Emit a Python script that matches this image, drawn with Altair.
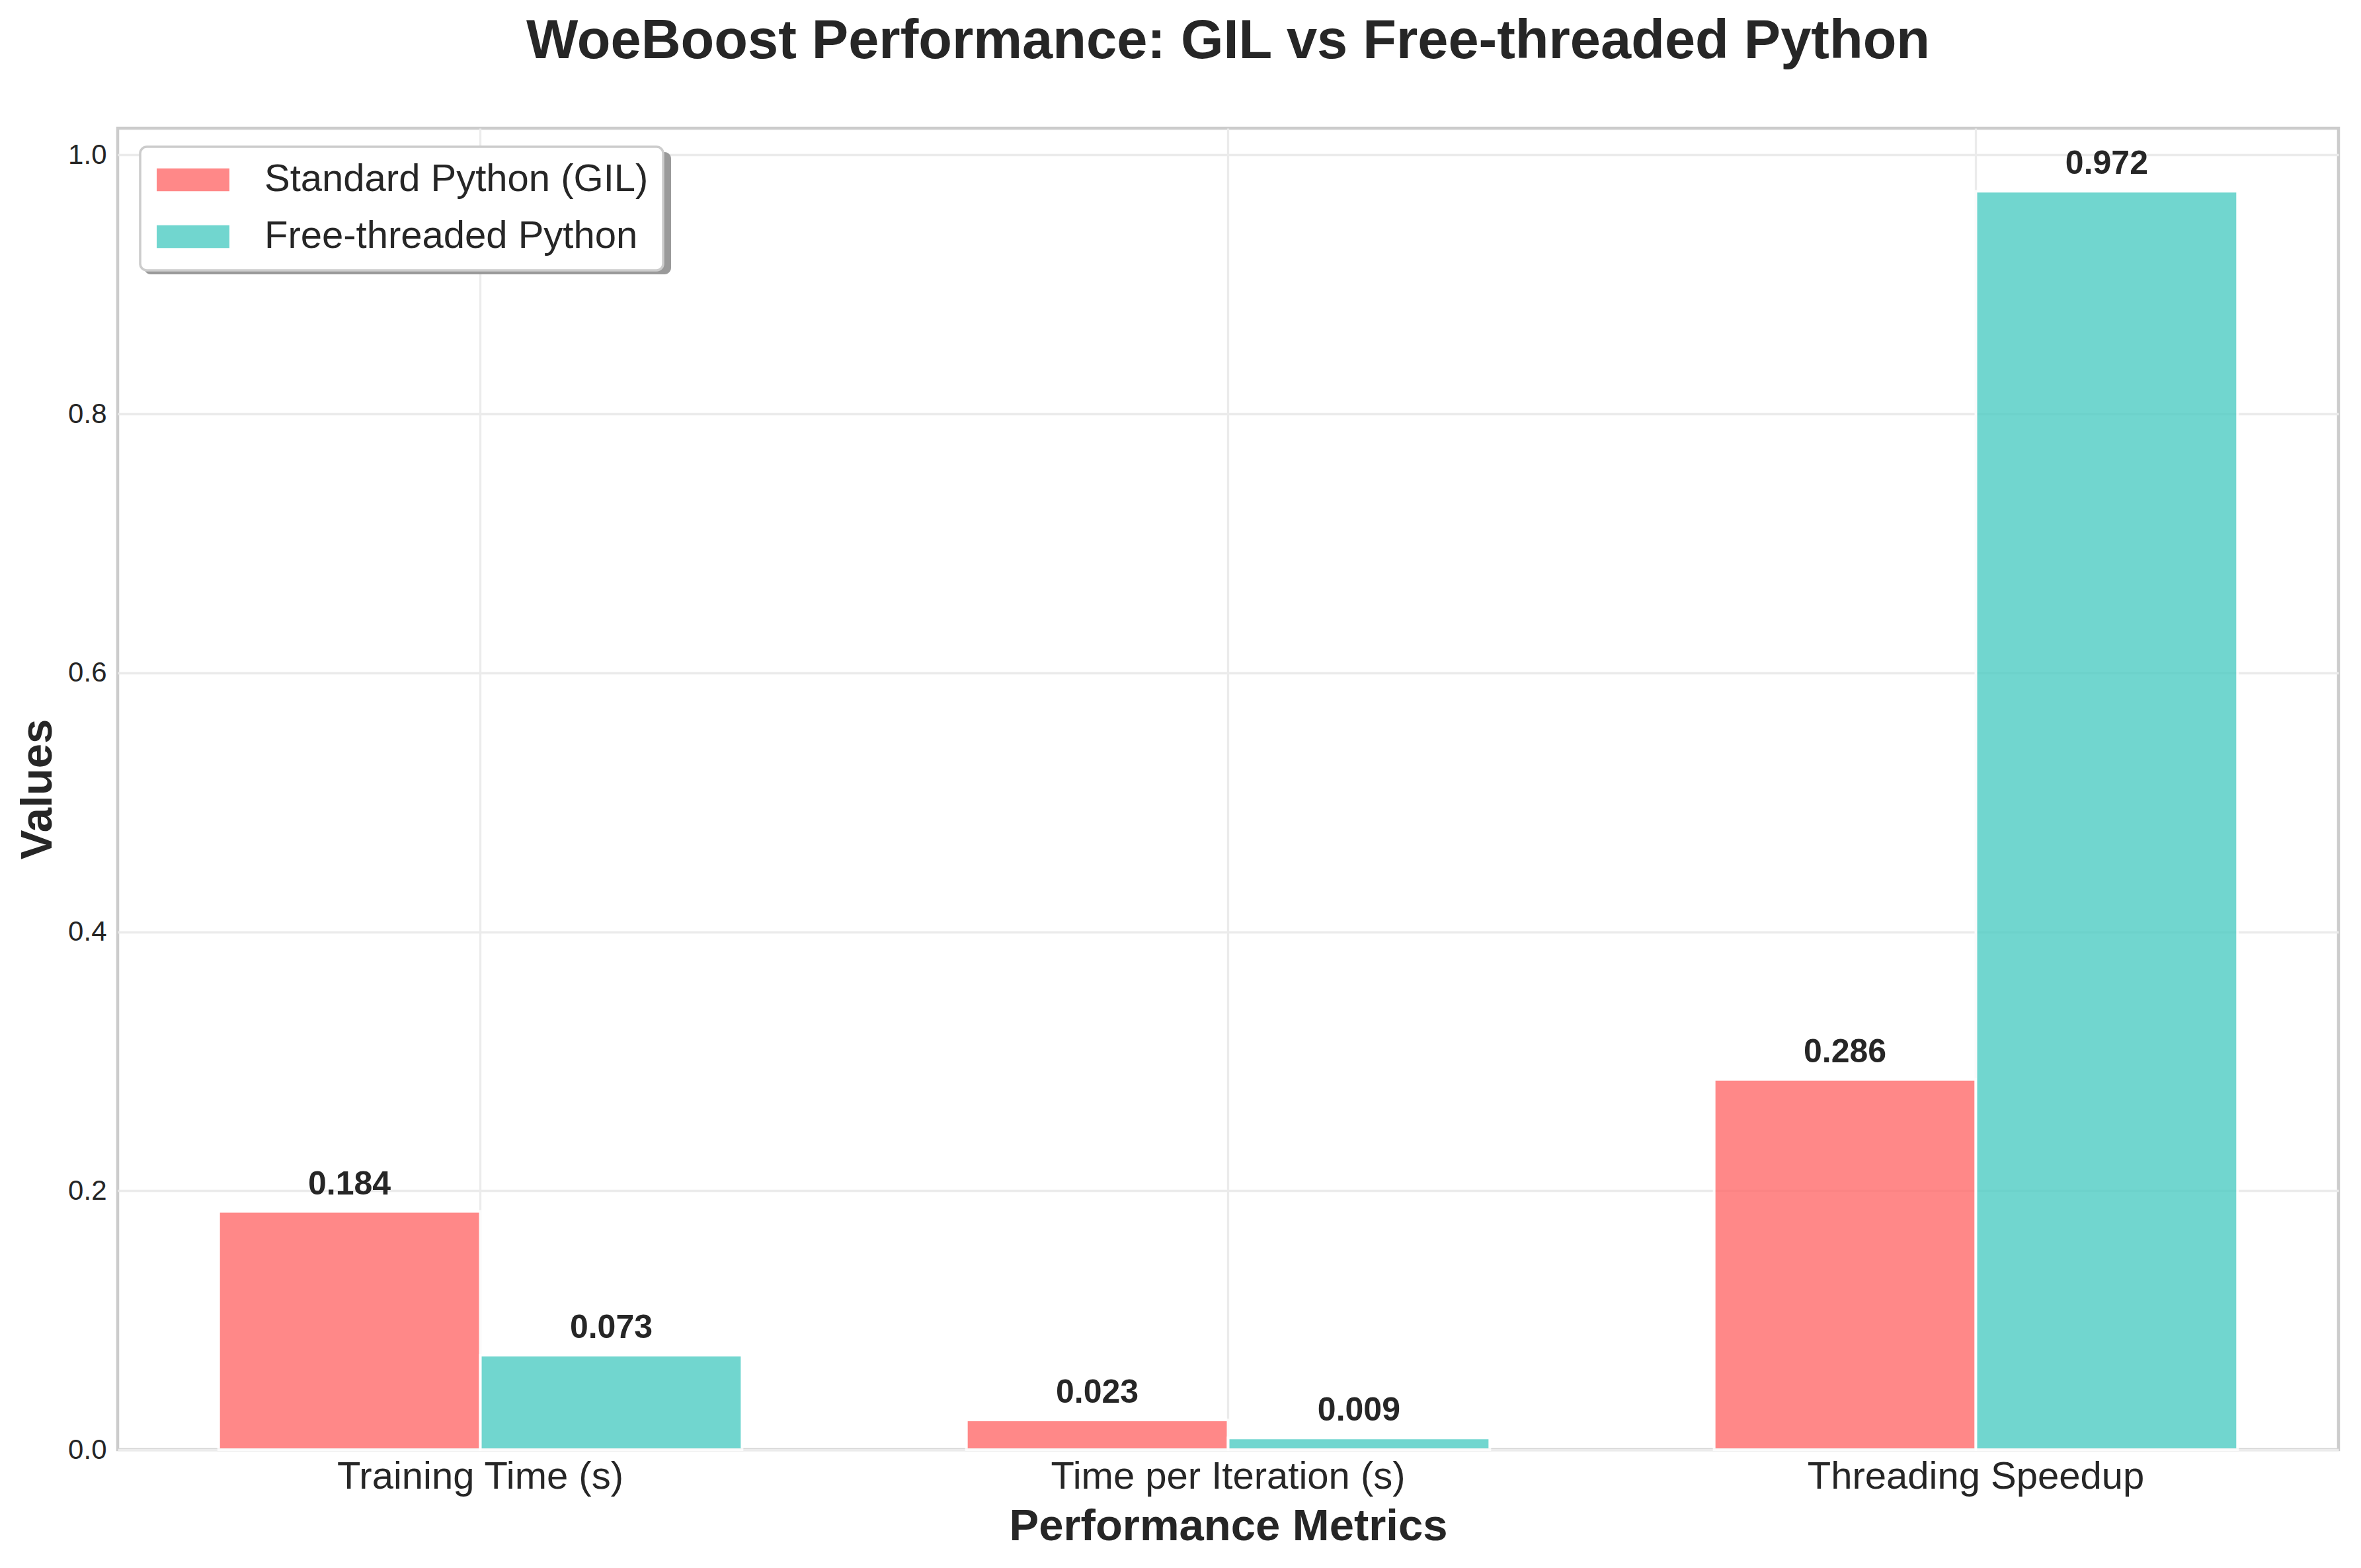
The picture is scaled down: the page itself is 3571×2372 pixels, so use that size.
import altair as alt
import pandas as pd

metrics = ["Training Time (s)", "Time per Iteration (s)", "Threading Speedup"]
series_names = ["Standard Python (GIL)", "Free-threaded Python"]
gil_values = [0.184, 0.023, 0.286]
ft_values = [0.073, 0.009, 0.972]
colors = ["#FF6B6B", "#4ECDC4"]
y_ticks = [0.0, 0.2, 0.4, 0.6, 0.8, 1.0]

rows = []
for m, g, f in zip(metrics, gil_values, ft_values):
    rows.append({"metric": m, "series": series_names[0], "value": g})
    rows.append({"metric": m, "series": series_names[1], "value": f})
df = pd.DataFrame(rows)

W, H = 3359, 1999
TXT = "#262626"
FONT = "Liberation Sans"

x = alt.X(
    "metric:N",
    sort=metrics,
    scale=alt.Scale(paddingInner=0.3, paddingOuter=0.135),
    axis=alt.Axis(
        title="Performance Metrics", labelAngle=0, labelFontSize=58, labelLimit=0,
        labelPadding=12, labelColor=TXT, titleFontSize=67, titleFontWeight="bold",
        titleColor=TXT, titleX=W / 2, titleY=116, titleBaseline="middle",
        grid=True, gridColor="#ebebeb", gridWidth=3.3, ticks=False, domain=False,
    ),
)
xo = alt.XOffset("series:N", sort=series_names,
                 scale=alt.Scale(paddingInner=0, paddingOuter=0))
y = alt.Y(
    "value:Q",
    scale=alt.Scale(domain=[0, 1.0206], nice=False, zero=True),
    axis=alt.Axis(
        title="Values", values=y_ticks, format=".1f", labelFontSize=42,
        labelPadding=17, labelColor=TXT, titleFontSize=67, titleFontWeight="bold",
        titleColor=TXT, titleX=-121, titleY=H / 2, titleBaseline="middle",
        grid=True, gridColor="#ebebeb", gridWidth=3.3, ticks=False, domain=False,
    ),
)
color = alt.Color(
    "series:N",
    sort=series_names,
    scale=alt.Scale(domain=series_names, range=colors),
    legend=alt.Legend(
        title=None, orient="none", legendX=34, legendY=28, direction="vertical",
        labelFontSize=58, labelColor=TXT, labelFont=FONT, labelLimit=0,
        symbolType="M-1,-0.33H1V0.33H-1Z", symbolSize=12769,
        symbolStrokeColor="white", symbolStrokeWidth=3, symbolOpacity=0.8,
        fillColor="white", strokeColor="#cccccc", cornerRadius=10,
        padding=22, rowPadding=28, labelOffset=50, clipHeight=56,
    ),
)

shadow = alt.Chart(pd.DataFrame({"a": [0]})).mark_rect(
    color="#9a9a9a", cornerRadius=10
).encode(x=alt.value(40), x2=alt.value(837), y=alt.value(36), y2=alt.value(221))

bars = alt.Chart(df).mark_bar(opacity=0.8, stroke="white", strokeWidth=4).encode(
    x=x, xOffset=xo, y=y, color=color
)
labels = alt.Chart(df).mark_text(
    dy=-26, baseline="alphabetic", fontSize=50, fontWeight="bold", color=TXT
).encode(x=x, xOffset=xo, y=y, text=alt.Text("value:Q", format=".3f"))

chart = alt.layer(bars, labels, shadow).properties(
    width=W, height=H,
    title=alt.TitleParams(
        text="WoeBoost Performance: GIL vs Free-threaded Python",
        fontSize=83, fontWeight="bold", color=TXT, anchor="middle",
        baseline="alphabetic", offset=23,
    ),
    padding={"left": 178, "top": 194, "right": 34, "bottom": 179},
    autosize=alt.AutoSizeParams(type="none"),
).configure(font=FONT, background="white").configure_view(
    stroke="#cccccc", strokeWidth=4.5
).configure_legend(strokeWidth=3.5)

chart.save("out.html", embed_options={"renderer": "svg", "actions": False})
